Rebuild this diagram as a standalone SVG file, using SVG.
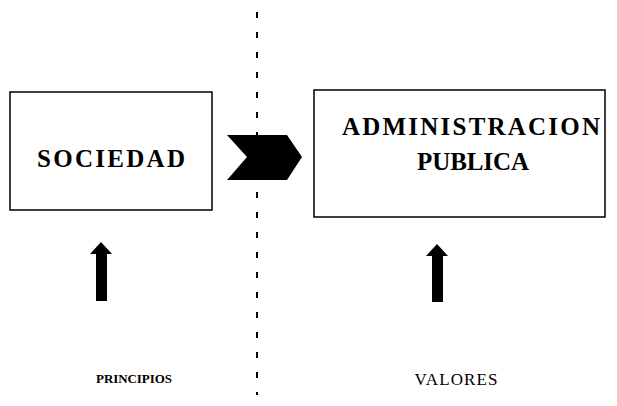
<svg xmlns="http://www.w3.org/2000/svg" width="617" height="406" viewBox="0 0 617 406">
<style>
.box{fill:#fff;stroke:#000;stroke-width:1.5}
.t{font-family:"Liberation Serif","Times New Roman",serif;fill:#000;font-weight:bold}
.solid{fill:#000}
</style>
<rect width="617" height="406" fill="#fff"/>
<g id="divider">
<line x1="257" y1="12" x2="257" y2="395" stroke="#000" stroke-width="2" stroke-dasharray="6 14"/>
</g>
<g id="sociedad">
<rect class="box" x="10" y="92" width="202" height="118"/>
<text class="t" x="111" y="167" font-size="25" text-anchor="middle" textLength="148">SOCIEDAD</text>
</g>
<g id="administracion">
<rect class="box" x="314" y="90" width="291" height="127"/>
<text class="t" x="471" y="135" font-size="25" text-anchor="middle" textLength="258">ADMINISTRACION</text>
<text class="t" x="473" y="170" font-size="25" text-anchor="middle" textLength="112">PUBLICA</text>
</g>
<g id="connectors">
<polygon class="solid" points="227,135 287,135 302,157 287,180 227,180 247,157"/>
<polygon id="arrow-principios" class="solid" points="101,242 112,254 107,254 107,301 96,301 96,254 90,254"/>
<polygon id="arrow-valores" class="solid" points="437,244 448,256 443,256 443,302 432,302 432,256 426,256"/>
</g>
<g id="labels">
<text class="t" x="134" y="383" font-size="13" text-anchor="middle" textLength="76">PRINCIPIOS</text>
<text x="456" y="385" font-size="17" text-anchor="middle" textLength="83" font-family="Liberation Serif, serif">VALORES</text>
</g>
</svg>
